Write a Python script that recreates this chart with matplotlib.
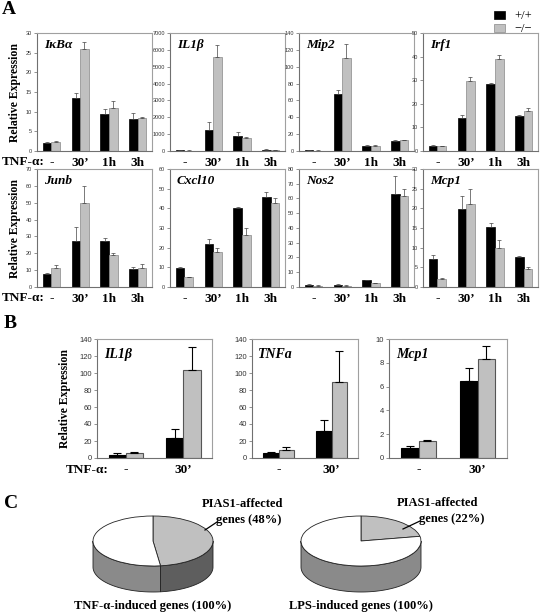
import numpy as np
import matplotlib
matplotlib.use('Agg')
import matplotlib.pyplot as plt
from matplotlib.lines import Line2D

plt.rcParams['font.family'] = ['Liberation Serif', 'DejaVu Serif']

# ---- data ----
time_cats = ['-', '30\u2019', '1h', '3h']
b_cats = ['-', '30\u2019']

genes_a = ['I\u03baB\u03b1', 'IL1\u03b2', 'Mip2', 'Irf1', 'Junb', 'Cxcl10', 'Nos2', 'Mcp1']
wt_a = [[2.0, 13.5, 9.3, 8.1], [30, 1250, 900, 80], [1.0, 68, 6.5, 12], [2.3, 13.8, 28.5, 15],
        [7.5, 27, 27.5, 10.5], [9.5, 22, 40, 46], [1.5, 1.5, 4.5, 63], [7.0, 19.8, 15.2, 7.5]]
wt_a_err = [[0.3, 1.2, 1.5, 1.6], [20, 500, 250, 30], [0.3, 4, 1, 1.5], [0.4, 1.5, 0.5, 0.3],
            [1.0, 8.5, 1.5, 1.5], [0.5, 2.5, 0.5, 2.5], [0.3, 0.3, 0.5, 12], [1.2, 3.3, 1.0, 0.4]]
ko_a = [[2.3, 26, 11, 8.4], [20, 5600, 780, 60], [0.5, 110, 6, 13], [2.0, 29.5, 39, 17],
        [11.5, 50, 19, 11], [5.0, 18, 26.5, 42.5], [1.0, 1.0, 2.5, 61.5], [2.0, 21, 10, 4.7]]
ko_a_err = [[0.3, 1.6, 1.6, 0.3], [10, 700, 80, 20], [0.2, 17, 1, 0.5], [0.2, 1.8, 1.5, 1.2],
            [1.5, 10, 1.0, 2.5], [0.3, 2.0, 3.5, 3.0], [0.2, 0.2, 0.5, 5], [0.3, 4.0, 2.0, 0.5]]
ylim_a = [(30, 5), (7000, 1000), (140, 20), (50, 10), (70, 10), (60, 10), (80, 10), (30, 5)]

genes_b = ['IL1\u03b2', 'TNFa', 'Mcp1']
wt_b = [[4, 24], [5.5, 32], [0.8, 6.5]]
wt_b_err = [[1.5, 10], [1.5, 13], [0.25, 1.1]]
ko_b = [[6, 104], [9, 90], [1.4, 8.3]]
ko_b_err = [[1.5, 27], [4.5, 36], [0.15, 1.1]]
ylim_b = [(140, 20), (140, 20), (10, 2)]

pie_frac = [48, 22]
pie_titles = ['TNF-\u03b1-induced genes (100%)', 'LPS-induced genes (100%)']

W, H = 544, 616
fig = plt.figure(figsize=(W / 100, H / 100), dpi=100)


def box(x0, y0, x1, y1):
    return [x0 / W, 1 - y1 / H, (x1 - x0) / W, (y1 - y0) / H]


def bar_panel(pos, cats, wt, wt_err, ko, ko_err, ylim, name, big=False):
    ax = fig.add_axes(box(*pos))
    x = np.arange(len(cats))
    w = 0.3
    lw = 0.8 if big else 0.5
    ekw = dict(ecolor='black' if big else '#444', elinewidth=lw, capsize=3 if big else 1.5, capthick=lw)
    b1 = ax.bar(x - w / 2, wt, w, color='black', edgecolor='black', linewidth=lw,
                yerr=[np.zeros(len(wt)), wt_err], error_kw=ekw, label='+/+')
    b2 = ax.bar(x + w / 2, ko, w, color='#c0c0c0', edgecolor='#555' if big else '#888', linewidth=lw,
                yerr=[np.zeros(len(ko)), ko_err], error_kw=ekw, label='\u2212/\u2212')
    ax.set_xlim(-0.5, len(cats) - 0.5)
    ax.set_ylim(0, ylim[0])
    ax.set_yticks(np.arange(0, ylim[0] + ylim[1] / 2, ylim[1]))
    ax.set_xticks(x)
    ax.set_xticklabels(cats, fontsize=9.5, fontweight='bold')
    ax.tick_params(axis='x', length=0, pad=4)
    ax.tick_params(axis='y', length=2, width=0.5, colors='#666', labelcolor='#333',
                   labelsize=5.5 if big else 4, pad=1.5)
    for lbl in ax.get_yticklabels():
        lbl.set_family('Liberation Sans')
    for s in ax.spines.values():
        s.set_color('#a0a0a0')
        s.set_linewidth(0.8)
    ax.spines['left'].set_color('#707070')
    ax.spines['bottom'].set_color('#707070')
    ax.text(0.06, 0.9 if not big else 0.87, name, transform=ax.transAxes, fontsize=10 if big else 9.5,
            fontweight='bold', fontstyle='italic', va='center', ha='left')
    return ax, b1, b2


# ---- panel A ----
lefts = [37, 170, 299, 423]
rows = [(33, 151), (169, 287)]
for i, g in enumerate(genes_a):
    r = i // 4
    c = i % 4
    pos = (lefts[c], rows[r][0], lefts[c] + 115, rows[r][1])
    ax, b1, b2 = bar_panel(pos, time_cats, wt_a[i], wt_a_err[i], ko_a[i], ko_a_err[i], ylim_a[i], g)
    if i == 0:
        handles = [b1, b2]

for r in rows:
    fig.text(15 / W, 1 - (r[0] + r[1]) / 2 / H, 'Relative Expression', rotation=90, fontsize=8.5,
             fontweight='bold', ha='center', va='center')
    fig.text(2 / W, 1 - (r[1] + 11) / H, 'TNF-\u03b1:', fontsize=9.5, fontweight='bold', ha='left', va='center')

fig.legend(handles=handles, loc='upper right', bbox_to_anchor=(538 / W, 1 - 4 / H), frameon=False,
           fontsize=9, handlelength=0.9, handleheight=0.55, handletextpad=0.7, labelspacing=0.1,
           borderpad=0)

# ---- panel B ----
b_pos = [(97, 339, 212, 458), (252, 339, 358, 458), (389, 339, 507, 458)]
for i, g in enumerate(genes_b):
    bar_panel(b_pos[i], b_cats, wt_b[i], wt_b_err[i], ko_b[i], ko_b_err[i], ylim_b[i], g, big=True)
fig.text(65 / W, 1 - 398 / H, 'Relative Expression', rotation=90, fontsize=8.5,
         fontweight='bold', ha='center', va='center')
fig.text(66 / W, 1 - 470 / H, 'TNF-\u03b1:', fontsize=9.5, fontweight='bold', ha='left', va='center')

# ---- panel C ----
pie_cx = [153, 361]
a_px, b_px, depth_px = 60, 25, 26
cy = 541
d = depth_px / b_px
label_line1 = [(242, 504), (437, 503)]
label_line2 = [(249, 520), (452, 519)]
leaders = [((205, 530), (217, 522)), ((403, 529), (420, 521))]
for k, f in enumerate(pie_frac):
    cx = pie_cx[k]
    ax = fig.add_axes(box(cx - 1.1 * a_px, cy - 1.1 * b_px, cx + 1.1 * a_px, cy + (1 + d + 0.1) * b_px))
    theta_end = np.deg2rad(90 - 360 * f / 100)
    t_split = 2 * np.pi + theta_end if -np.pi < theta_end < 0 else 2 * np.pi
    segs = [(np.pi, t_split, '#8a8a8a'), (t_split, 2 * np.pi, '#5e5e5e')]
    for t0, t1, col in segs:
        if t1 - t0 <= 0:
            continue
        t = np.linspace(t0, t1, 100)
        xs, ys = np.cos(t), np.sin(t)
        ax.fill(np.concatenate([xs, xs[::-1]]), np.concatenate([ys, ys[::-1] - d]),
                facecolor=col, edgecolor='#222', linewidth=0.6)
    ax.pie([f, 100 - f], colors=['#c0c0c0', 'white'], startangle=90, counterclock=False,
           wedgeprops=dict(edgecolor='#222', linewidth=0.6))
    ax.set_aspect('auto')
    ax.set_xlim(-1.1, 1.1)
    ax.set_ylim(-1 - d - 0.1, 1.1)
    ax.axis('off')
    fig.text(label_line1[k][0] / W, 1 - label_line1[k][1] / H, 'PIAS1-affected',
             fontsize=9, fontweight='bold', ha='center', va='center')
    fig.text(label_line2[k][0] / W, 1 - label_line2[k][1] / H, 'genes (%d%%)' % f,
             fontsize=9, fontweight='bold', ha='center', va='center')
    (x0, y0), (x1, y1) = leaders[k]
    fig.add_artist(Line2D([x0 / W, x1 / W], [1 - y0 / H, 1 - y1 / H], color='black', linewidth=0.9))
    fig.text(cx / W, 1 - 606 / H, pie_titles[k], fontsize=9, fontweight='bold', ha='center', va='center')

# ---- panel letters ----
fig.text(2 / W, 1 - 9 / H, 'A', fontsize=14, fontweight='bold', va='center')
fig.text(4 / W, 1 - 323 / H, 'B', fontsize=14, fontweight='bold', va='center')
fig.text(4 / W, 1 - 503 / H, 'C', fontsize=14, fontweight='bold', va='center')

fig.savefig('out.png', dpi=100)
